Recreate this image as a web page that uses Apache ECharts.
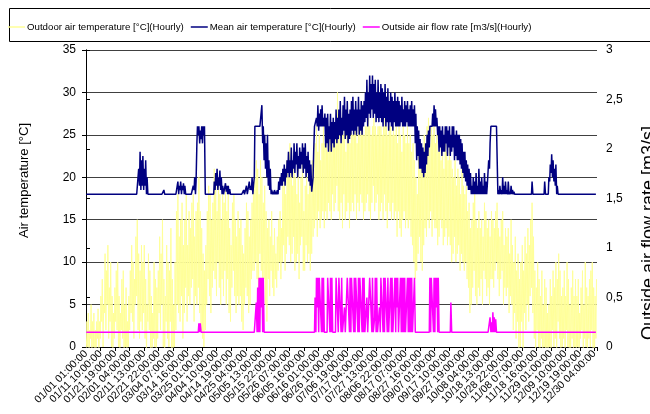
<!DOCTYPE html>
<html>
<head>
<meta charset="utf-8">
<script src="https://cdn.jsdelivr.net/npm/echarts@6/dist/echarts.min.js"></script>
<style>
  html, body { margin: 0; padding: 0; background: #fff; }
  #chart { width: 650px; height: 414px; }
</style>
</head>
<body>
<div id="chart"></div>
<script>
// tick labels along the hourly axis (one every 249 hours)
const tickLabels = [
  '01/01 01:00:00', '01/11 10:00:00', '01/21 19:00:00', '02/01 04:00:00', '02/11 13:00:00', '02/21 22:00:00',
  '03/04 07:00:00', '03/14 16:00:00', '03/25 01:00:00', '04/04 10:00:00', '04/14 19:00:00', '04/25 04:00:00',
  '05/05 13:00:00', '05/15 22:00:00', '05/26 07:00:00', '06/05 16:00:00', '06/16 01:00:00', '06/26 10:00:00',
  '07/06 19:00:00', '07/17 04:00:00', '07/27 13:00:00', '08/06 22:00:00', '08/17 07:00:00', '08/27 16:00:00',
  '09/07 01:00:00', '09/17 10:00:00', '09/27 19:00:00', '10/08 04:00:00', '10/18 13:00:00', '10/28 22:00:00',
  '11/08 07:00:00', '11/18 16:00:00', '11/29 01:00:00', '12/09 10:00:00', '12/19 19:00:00', '12/30 04:00:00'
];
const tickStep = 249;

// outdoor air temperature [°C]: daily max / min (365 days)
const outdoorMax = [
  3, 4, 2, 5, 3, 4, 2, 3, 4.5, 3,
  6, 8, 5, 11, 9, 12, 7, 10, 6, 4,
  7, 9, 10, 6, 4, 8, 9, 5, 7, 3,
  6, 9, 12, 10, 8, 13, 15, 11, 9, 12,
  10, 12, 8, 5, 11, 9, 6, 4, 10, 8,
  7, 9, 13, 11, 15, 8, 6, 12, 10, 9,
  14, 8, 5, 10, 16, 18, 13, 15, 17, 12,
  15, 18, 12, 16, 14, 17, 18, 13, 16, 17,
  20, 16, 14, 11, 9, 12, 16, 19, 18, 15,
  17, 21, 19, 16, 20, 18, 15, 18, 17, 19,
  16, 19, 14, 12, 17, 18, 15, 13, 16, 14,
  15, 12, 11, 14, 17, 16, 13, 15, 17, 19,
  20, 22, 21, 18, 22, 20, 17, 19, 16, 14,
  15, 13, 16, 12, 14, 11, 13, 15, 16, 14,
  19, 21, 18, 22, 20, 24, 21, 19, 23, 20,
  18, 21, 17, 20, 22, 16, 19, 21, 18, 20,
  19, 22, 20, 24, 26, 23, 25, 22, 24, 26,
  24, 26, 23, 25, 27, 24, 26, 25, 27, 30,
  26, 24, 27, 25, 26, 23, 25, 27, 24, 26,
  25, 27, 26, 24, 26, 25, 27, 26, 25, 26,
  26, 27, 26, 25, 26, 27, 26, 25, 26, 26,
  26, 25, 26, 27, 26, 25, 26, 26, 25, 26,
  25, 26, 24, 26, 25, 23, 26, 25, 24, 26,
  24, 25, 23, 24, 22, 20, 18, 23, 21, 24,
  22, 25, 23, 26, 27, 24, 26, 25, 27, 24,
  25, 23, 24, 22, 25, 21, 24, 23, 22, 24,
  22, 21, 20, 22, 19, 21, 20, 18, 21, 19,
  18, 19, 16, 17, 14, 15, 17, 19, 15, 14,
  16, 14, 15, 13, 17, 16, 14, 15, 13, 16,
  15, 14, 16, 17, 14, 13, 15, 16, 12, 14,
  13, 14, 11, 15, 12, 10, 13, 9, 11, 8,
  10, 12, 9, 13, 11, 14, 12, 15, 17, 13,
  9, 7, 10, 8, 6, 9, 5, 8, 7, 4,
  5, 8, 6, 9, 7, 10, 8, 11, 9, 6,
  7, 9, 6, 10, 8, 5, 7, 9, 6, 8,
  6, 8, 4, 7, 9, 5, 10, 7, 6, 8,
  9, 10, 7, 6, 8
];
const outdoorMin = [
  -1, 0, -2, 1, -1, 0, -3, -1, 1, -2,
  1, 3, 0, 4, 2, 5, 1, 3, 0, -1,
  1, 3, 2, 0, -2, 2, 1, -1, 0, -3,
  0, 2, 4, 3, 1, 5, 6, 2, 1, 3,
  2, 4, 1, -1, 3, 2, -1, -3, 1, 0,
  -1, 1, 4, 2, 5, 0, -2, 3, 1, 0,
  3, -1, -3, 0, 2, 5, 4, 3, 6, 1,
  4, 7, 3, 6, 5, 7, 8, 3, 6, 5,
  7, 4, 2, 1, 0, 2, 5, 8, 6, 4,
  7, 9, 8, 6, 10, 7, 5, 8, 6, 9,
  5, 8, 4, 3, 7, 9, 6, 4, 6, 5,
  6, 3, 2, 5, 7, 6, 4, 5, 8, 9,
  9, 10, 8, 6, 11, 9, 7, 8, 5, 3,
  8, 6, 9, 7, 6, 8, 7, 9, 10, 8,
  10, 12, 9, 11, 13, 12, 10, 11, 13, 9,
  10, 11, 8, 12, 13, 9, 9, 12, 10, 11,
  9, 11, 13, 14, 15, 13, 16, 14, 15, 16,
  14, 16, 15, 17, 16, 15, 18, 16, 17, 19,
  16, 15, 17, 14, 18, 15, 16, 17, 14, 16,
  17, 16, 18, 15, 17, 16, 18, 17, 15, 16,
  17, 18, 16, 15, 17, 19, 16, 17, 18, 15,
  16, 17, 15, 18, 16, 14, 17, 16, 15, 17,
  15, 16, 13, 16, 14, 13, 15, 16, 14, 15,
  14, 15, 13, 12, 10, 8, 9, 11, 13, 10,
  9, 12, 14, 13, 15, 14, 16, 13, 15, 14,
  14, 12, 13, 15, 14, 12, 13, 14, 12, 13,
  12, 10, 11, 13, 10, 11, 12, 9, 11, 10,
  9, 10, 8, 7, 4, 5, 7, 9, 6, 5,
  7, 6, 8, 5, 9, 8, 6, 7, 5, 8,
  8, 7, 9, 10, 8, 6, 8, 9, 5, 7,
  6, 7, 4, 6, 5, 2, 4, 1, 3, -1,
  0, 3, -1, 4, 2, 5, 3, 6, 7, 4,
  1, -1, 2, 0, -2, 1, -3, 0, -1, -2,
  -2, 0, -1, 2, 0, 1, -1, 3, 1, -2,
  0, 1, -2, 2, 0, -3, -1, 1, -1, 0,
  -1, 0, -3, 1, 2, -2, 1, 0, -1, 1,
  0, 2, -1, -2, 1
];

// mean air temperature [°C]: daily max / min
const meanMax = [
  18, 18, 18, 18, 18, 18, 18, 18, 18, 18,
  18, 18, 18, 18, 18, 18, 18, 18, 18, 18,
  18, 18, 18, 18, 18, 18, 18, 18, 18, 18,
  18, 18, 18, 18, 18, 18, 18, 21, 23, 22,
  22.5, 21, 22, 20, 18, 18, 18, 18, 18, 18,
  18, 18, 18, 18, 18, 18.5, 18, 18, 18, 18,
  18, 18, 18, 18, 18, 19.5, 19, 19.5, 19, 19.3,
  19, 18, 18, 18, 18, 18, 19, 20, 19.5, 26,
  26, 25.5, 26, 26, 26, 18, 18, 18, 18, 18,
  18, 19.5, 20.5, 21, 20, 20.8, 20, 19, 18, 19.3,
  19, 19, 18.6, 18, 18, 18, 18, 18, 18, 18,
  18, 18, 18.5, 18, 19, 18, 19.5, 19, 20, 19,
  26, 26, 26, 26, 26, 28.5, 26, 25, 24, 25,
  22, 21, 18.5, 18.3, 18.5, 18.3, 18.5, 19.5, 20, 20.5,
  21, 21.5, 21, 22, 23, 22, 23.5, 22, 24, 23,
  24, 22.5, 23.5, 23, 24, 23.5, 24, 22.5, 23, 22,
  21.5, 19, 23, 26, 27, 28.5, 27.5, 28, 28.5, 27,
  27.5, 27, 27.5, 26, 27.5, 26.5, 27, 26.5, 28, 27,
  28, 29, 27, 28.5, 29.5, 28, 29, 27.5, 28, 29,
  29.5, 28, 29, 28, 29.5, 28, 29, 28.5, 29, 30,
  31.5, 30, 32, 31, 32, 31, 31.5, 30, 31.5, 30,
  31, 30.5, 30, 31, 29.5, 30.5, 29, 30, 29.5, 29,
  30, 29, 29.5, 29, 28.5, 29.5, 28, 29, 28.5, 29,
  28, 28.5, 29, 28, 28.5, 27.5, 26, 25.5, 24.5, 24,
  23.5, 23, 24, 25, 25.5, 26, 26, 27.5, 28.5, 28,
  27, 26, 26, 25.5, 26, 25, 26, 26, 25.5, 26,
  25, 26, 26, 25, 25.5, 25, 25, 24.5, 24, 23,
  23, 22, 21.5, 21, 20.5, 19, 20, 19.5, 20.5, 19,
  21, 19.5, 20, 19, 20.5, 19.5, 19, 22, 24, 26,
  26, 26, 26, 26, 18.5, 19, 18.5, 20, 19, 19.5,
  18.5, 19.5, 18.3, 19, 18.5, 18.3, 18, 18, 18, 18,
  18, 18, 18, 18, 18, 18, 18, 18, 19.5, 18,
  18, 18, 18, 18, 18, 18, 18, 19.5, 18, 18,
  20, 21.5, 22.7, 22, 21, 21.5, 19, 18, 18, 18,
  18, 18, 18, 18, 18, 18, 18, 18, 18, 18,
  18, 18, 18, 18, 18, 18, 18, 18, 18, 18,
  18, 18, 18, 18, 18
];
const meanMin = [
  18, 18, 18, 18, 18, 18, 18, 18, 18, 18,
  18, 18, 18, 18, 18, 18, 18, 18, 18, 18,
  18, 18, 18, 18, 18, 18, 18, 18, 18, 18,
  18, 18, 18, 18, 18, 18, 18, 18, 19, 18.5,
  19, 18.5, 19, 18, 18, 18, 18, 18, 18, 18,
  18, 18, 18, 18, 18, 18, 18, 18, 18, 18,
  18, 18, 18, 18, 18, 18, 18, 18.5, 18, 18.5,
  18, 18, 18, 18, 18, 18, 18, 18.5, 18, 24,
  25, 24, 24.5, 24, 25, 18, 18, 18, 18, 18,
  18, 18, 18.5, 19, 18.5, 19, 18.5, 18, 18, 18,
  18.3, 18, 18, 18, 18, 18, 18, 18, 18, 18,
  18, 18, 18, 18, 18, 18, 18, 18.5, 18.5, 18,
  20, 26, 26, 26, 26, 26, 24, 22, 21, 20,
  19, 18.5, 18, 18, 18, 18, 18, 18, 18.5, 19,
  19, 19.5, 19, 20, 20.5, 20, 20.5, 20, 21, 20.5,
  21.5, 20, 21, 21, 21.5, 20.5, 21, 20, 20.5, 19.5,
  19, 18.3, 20, 26, 26, 26, 25.5, 26, 26, 26,
  26, 23.5, 24, 23, 24.5, 23, 24, 23.5, 24.5, 24,
  24.5, 25, 24, 25, 25.5, 24.5, 25, 24, 24.5, 25,
  25.5, 25, 25.5, 25, 26, 25, 25.5, 25, 26, 26.5,
  27, 26, 27.5, 27, 28, 27, 27.5, 26.5, 27, 26.5,
  27, 26.5, 26, 27, 26, 26.5, 25.5, 26.5, 26, 25.5,
  26.5, 26, 26, 26, 26, 26.5, 26, 26, 26, 26.5,
  26, 26, 26, 26, 26, 24, 22, 22.5, 21, 21,
  20.5, 20, 20.5, 21.5, 22.5, 23.5, 26, 26, 26, 26,
  26, 25, 23, 23.5, 22.5, 23, 23, 24, 22.5, 23.5,
  22.5, 23, 23.5, 22, 22.5, 22, 22, 21.5, 21, 20.5,
  20, 19.5, 19, 18.5, 18.5, 18, 18, 18, 18, 18,
  18, 18, 18, 18, 18, 18, 18, 19, 21, 26,
  26, 26, 26, 26, 18, 18, 18, 18, 18, 18,
  18, 18, 18, 18, 18, 18, 18, 18, 18, 18,
  18, 18, 18, 18, 18, 18, 18, 18, 18, 18,
  18, 18, 18, 18, 18, 18, 18, 18, 18, 18,
  18, 19.5, 20.5, 20, 19.5, 19, 18, 18, 18, 18,
  18, 18, 18, 18, 18, 18, 18, 18, 18, 18,
  18, 18, 18, 18, 18, 18, 18, 18, 18, 18,
  18, 18, 18, 18, 18
];

// outside air flow rate [m3/s]: daily max / min
const flowMax = [
  0.15, 0.15, 0.15, 0.15, 0.15, 0.15, 0.15, 0.15, 0.15, 0.15,
  0.15, 0.15, 0.15, 0.15, 0.15, 0.15, 0.15, 0.15, 0.15, 0.15,
  0.15, 0.15, 0.15, 0.15, 0.15, 0.15, 0.15, 0.15, 0.15, 0.15,
  0.15, 0.15, 0.15, 0.15, 0.15, 0.15, 0.15, 0.15, 0.15, 0.15,
  0.15, 0.15, 0.15, 0.15, 0.15, 0.15, 0.15, 0.15, 0.15, 0.15,
  0.15, 0.15, 0.15, 0.15, 0.15, 0.15, 0.15, 0.15, 0.15, 0.15,
  0.15, 0.15, 0.15, 0.15, 0.15, 0.15, 0.15, 0.15, 0.15, 0.15,
  0.15, 0.15, 0.15, 0.15, 0.15, 0.15, 0.15, 0.15, 0.15, 0.15,
  0.24, 0.24, 0.15, 0.15, 0.15, 0.15, 0.15, 0.15, 0.15, 0.15,
  0.15, 0.15, 0.15, 0.15, 0.15, 0.15, 0.15, 0.15, 0.15, 0.15,
  0.15, 0.15, 0.15, 0.15, 0.15, 0.15, 0.15, 0.15, 0.15, 0.15,
  0.15, 0.15, 0.15, 0.15, 0.15, 0.15, 0.15, 0.15, 0.15, 0.15,
  0.15, 0.45, 0.6, 0.7, 0.7, 0.7, 0.7, 0.15, 0.15, 0.15,
  0.15, 0.15, 0.15, 0.15, 0.15, 0.15, 0.15, 0.15, 0.15, 0.15,
  0.15, 0.15, 0.15, 0.15, 0.15, 0.15, 0.15, 0.15, 0.15, 0.15,
  0.15, 0.15, 0.15, 0.15, 0.15, 0.15, 0.15, 0.15, 0.15, 0.15,
  0.15, 0.15, 0.15, 0.5, 0.7, 0.7, 0.7, 0.7, 0.7, 0.7,
  0.15, 0.15, 0.7, 0.7, 0.7, 0.7, 0.15, 0.15, 0.7, 0.7,
  0.7, 0.7, 0.7, 0.15, 0.4, 0.15, 0.7, 0.7, 0.7, 0.7,
  0.7, 0.7, 0.7, 0.7, 0.7, 0.7, 0.7, 0.7, 0.7, 0.15,
  0.5, 0.15, 0.7, 0.7, 0.7, 0.15, 0.7, 0.7, 0.15, 0.4,
  0.7, 0.7, 0.7, 0.7, 0.7, 0.7, 0.15, 0.7, 0.7, 0.15,
  0.7, 0.7, 0.7, 0.15, 0.7, 0.7, 0.7, 0.7, 0.15, 0.7,
  0.7, 0.7, 0.7, 0.15, 0.7, 0.15, 0.15, 0.15, 0.15, 0.15,
  0.15, 0.15, 0.15, 0.15, 0.15, 0.7, 0.7, 0.7, 0.7, 0.7,
  0.7, 0.7, 0.15, 0.15, 0.15, 0.15, 0.15, 0.15, 0.15, 0.15,
  0.45, 0.15, 0.15, 0.15, 0.15, 0.15, 0.15, 0.15, 0.15, 0.15,
  0.15, 0.15, 0.15, 0.15, 0.15, 0.15, 0.15, 0.15, 0.15, 0.15,
  0.15, 0.15, 0.15, 0.15, 0.15, 0.15, 0.15, 0.15, 0.3, 0.25,
  0.35, 0.3, 0.28, 0.15, 0.15, 0.15, 0.15, 0.15, 0.15, 0.15,
  0.15, 0.15, 0.15, 0.15, 0.15, 0.15, 0.15, 0.15, 0.15, 0.15,
  0.15, 0.15, 0.15, 0.15, 0.15, 0.15, 0.15, 0.15, 0.15, 0.15,
  0.15, 0.15, 0.15, 0.15, 0.15, 0.15, 0.15, 0.15, 0.15, 0.15,
  0.15, 0.15, 0.15, 0.15, 0.15, 0.15, 0.15, 0.15, 0.15, 0.15,
  0.15, 0.15, 0.15, 0.15, 0.15, 0.15, 0.15, 0.15, 0.15, 0.15,
  0.15, 0.15, 0.15, 0.15, 0.15, 0.15, 0.15, 0.15, 0.15, 0.15,
  0.15, 0.15, 0.15, 0.15, 0.15
];
const flowMin = [
  0.15, 0.15, 0.15, 0.15, 0.15, 0.15, 0.15, 0.15, 0.15, 0.15,
  0.15, 0.15, 0.15, 0.15, 0.15, 0.15, 0.15, 0.15, 0.15, 0.15,
  0.15, 0.15, 0.15, 0.15, 0.15, 0.15, 0.15, 0.15, 0.15, 0.15,
  0.15, 0.15, 0.15, 0.15, 0.15, 0.15, 0.15, 0.15, 0.15, 0.15,
  0.15, 0.15, 0.15, 0.15, 0.15, 0.15, 0.15, 0.15, 0.15, 0.15,
  0.15, 0.15, 0.15, 0.15, 0.15, 0.15, 0.15, 0.15, 0.15, 0.15,
  0.15, 0.15, 0.15, 0.15, 0.15, 0.15, 0.15, 0.15, 0.15, 0.15,
  0.15, 0.15, 0.15, 0.15, 0.15, 0.15, 0.15, 0.15, 0.15, 0.15,
  0.15, 0.15, 0.15, 0.15, 0.15, 0.15, 0.15, 0.15, 0.15, 0.15,
  0.15, 0.15, 0.15, 0.15, 0.15, 0.15, 0.15, 0.15, 0.15, 0.15,
  0.15, 0.15, 0.15, 0.15, 0.15, 0.15, 0.15, 0.15, 0.15, 0.15,
  0.15, 0.15, 0.15, 0.15, 0.15, 0.15, 0.15, 0.15, 0.15, 0.15,
  0.15, 0.15, 0.15, 0.15, 0.15, 0.4, 0.15, 0.15, 0.15, 0.15,
  0.15, 0.15, 0.15, 0.15, 0.15, 0.15, 0.15, 0.15, 0.15, 0.15,
  0.15, 0.15, 0.15, 0.15, 0.15, 0.15, 0.15, 0.15, 0.15, 0.15,
  0.15, 0.15, 0.15, 0.15, 0.15, 0.15, 0.15, 0.15, 0.15, 0.15,
  0.15, 0.15, 0.15, 0.15, 0.15, 0.4, 0.15, 0.7, 0.15, 0.15,
  0.15, 0.15, 0.15, 0.7, 0.15, 0.15, 0.15, 0.15, 0.15, 0.7,
  0.15, 0.7, 0.15, 0.15, 0.15, 0.15, 0.15, 0.7, 0.15, 0.15,
  0.7, 0.15, 0.15, 0.7, 0.15, 0.15, 0.7, 0.15, 0.15, 0.15,
  0.15, 0.15, 0.15, 0.7, 0.15, 0.15, 0.3, 0.15, 0.15, 0.15,
  0.15, 0.7, 0.15, 0.15, 0.7, 0.15, 0.15, 0.15, 0.15, 0.15,
  0.15, 0.15, 0.4, 0.15, 0.15, 0.15, 0.15, 0.15, 0.15, 0.15,
  0.15, 0.15, 0.15, 0.15, 0.15, 0.15, 0.15, 0.15, 0.15, 0.15,
  0.15, 0.15, 0.15, 0.15, 0.15, 0.15, 0.15, 0.7, 0.15, 0.15,
  0.4, 0.15, 0.15, 0.15, 0.15, 0.15, 0.15, 0.15, 0.15, 0.15,
  0.15, 0.15, 0.15, 0.15, 0.15, 0.15, 0.15, 0.15, 0.15, 0.15,
  0.15, 0.15, 0.15, 0.15, 0.15, 0.15, 0.15, 0.15, 0.15, 0.15,
  0.15, 0.15, 0.15, 0.15, 0.15, 0.15, 0.15, 0.15, 0.15, 0.15,
  0.15, 0.15, 0.15, 0.15, 0.15, 0.15, 0.15, 0.15, 0.15, 0.15,
  0.15, 0.15, 0.15, 0.15, 0.15, 0.15, 0.15, 0.15, 0.15, 0.15,
  0.15, 0.15, 0.15, 0.15, 0.15, 0.15, 0.15, 0.15, 0.15, 0.15,
  0.15, 0.15, 0.15, 0.15, 0.15, 0.15, 0.15, 0.15, 0.15, 0.15,
  0.15, 0.15, 0.15, 0.15, 0.15, 0.15, 0.15, 0.15, 0.15, 0.15,
  0.15, 0.15, 0.15, 0.15, 0.15, 0.15, 0.15, 0.15, 0.15, 0.15,
  0.15, 0.15, 0.15, 0.15, 0.15, 0.15, 0.15, 0.15, 0.15, 0.15,
  0.15, 0.15, 0.15, 0.15, 0.15
];

const seriesNames = [
  'Outdoor air temperature [°C](Hourly)',
  'Mean air temperature [°C](Hourly)',
  'Outside air flow rate [m3/s](Hourly)'
];

// each day: the night-time low early in the day, the daytime high in the afternoon
const toHourly = (lows, highs) => {
  const pts = [];
  lows.forEach((lo, d) => {
    pts.push([d * 24 + 5, lo]);
    pts.push([d * 24 + 15, highs[d]]);
  });
  return pts;
};

const font = 'Liberation Sans, Arial, sans-serif';
const labelAt = (v) => {
  const i = v / tickStep;
  return Number.isInteger(i) && i < tickLabels.length ? tickLabels[i] : '';
};
const xLabelStyle = { rotate: 45, fontSize: 10.5, color: '#000', margin: 5 };

const chart = echarts.init(document.getElementById('chart'), null, { renderer: 'canvas' });

chart.setOption({
  animation: false,
  textStyle: { fontFamily: font, color: '#000' },
  graphic: [
    {
      type: 'rect',
      left: 7, top: 6,
      shape: { width: 700, height: 33 },
      style: { fill: 'none', stroke: '#000', lineWidth: 1 },
      silent: true
    },
    {
      // right axis title, partly cut off by the canvas edge as in the original
      type: 'text',
      x: 640, y: 233,
      rotation: Math.PI / 2,
      style: {
        text: 'Outside air flow rate [m3/s]',
        font: '18px Liberation Sans, Arial, sans-serif',
        fill: '#000', align: 'center', verticalAlign: 'top'
      },
      silent: true
    }
  ],
  legend: {
    left: 8, top: 22, padding: 0,
    icon: 'rect',
    itemWidth: 17, itemHeight: 1.5,
    itemGap: 7,
    textStyle: { fontFamily: font, fontSize: 9.7, color: '#000', padding: [0, 0, 0, -3] },
    data: seriesNames
  },
  grid: { left: 86, right: 53, top: 50, bottom: 67, containLabel: false },
  xAxis: [
    {
      type: 'value', position: 'bottom',
      min: 0, max: 8760, interval: tickStep,
      axisLine: { lineStyle: { color: '#000', width: 1 } },
      axisTick: { show: true, length: 4, lineStyle: { color: '#000' } },
      splitLine: { show: false },
      axisLabel: Object.assign({ showMinLabel: false, formatter: labelAt }, xLabelStyle)
    },
    {
      // same scale, only carries the first date label (the main axis drops it as overlapping)
      type: 'value', position: 'bottom',
      min: 0, max: 8760, interval: tickStep,
      axisLine: { show: false },
      axisTick: { show: false },
      splitLine: { show: false },
      axisLabel: Object.assign({
        showMinLabel: true,
        formatter: (v) => (v === 0 ? tickLabels[0] : '')
      }, xLabelStyle)
    }
  ],
  yAxis: [
    {
      type: 'value', min: 0, max: 35, interval: 5,
      name: 'Air temperature [°C]',
      nameLocation: 'middle', nameGap: 55,
      nameTextStyle: { fontSize: 13, color: '#000', padding: [0, 0, 0, 36] },
      axisLine: { show: true, lineStyle: { color: '#000' } },
      axisTick: { show: true, length: 4, lineStyle: { color: '#000' } },
      axisLabel: { fontSize: 12, color: '#000', margin: 10 },
      splitLine: { show: true, lineStyle: { color: '#404040', width: 1 } }
    },
    {
      type: 'value', min: 0, max: 3, interval: 0.5,
      axisLine: { show: true, lineStyle: { color: '#000' } },
      axisTick: { show: true, length: 4, lineStyle: { color: '#000' } },
      axisLabel: {
        fontSize: 12, color: '#000', margin: 9,
        formatter: (v) => String(v).replace('.', ',')
      },
      splitLine: { show: false }
    }
  ],
  series: [
    {
      name: seriesNames[0], type: 'line', xAxisIndex: 0, yAxisIndex: 0,
      data: toHourly(outdoorMin, outdoorMax),
      showSymbol: false, clip: true,
      itemStyle: { color: '#FFFF99' },
      lineStyle: { color: '#FFFF99', width: 1 }
    },
    {
      name: seriesNames[1], type: 'line', xAxisIndex: 0, yAxisIndex: 0,
      data: toHourly(meanMin, meanMax),
      showSymbol: false, clip: true,
      itemStyle: { color: '#000080' },
      lineStyle: { color: '#000080', width: 1.5 }
    },
    {
      name: seriesNames[2], type: 'line', xAxisIndex: 0, yAxisIndex: 1,
      data: toHourly(flowMin, flowMax),
      showSymbol: false, clip: true,
      itemStyle: { color: '#FF00FF' },
      lineStyle: { color: '#FF00FF', width: 1.5 }
    }
  ]
});
</script>
</body>
</html>
